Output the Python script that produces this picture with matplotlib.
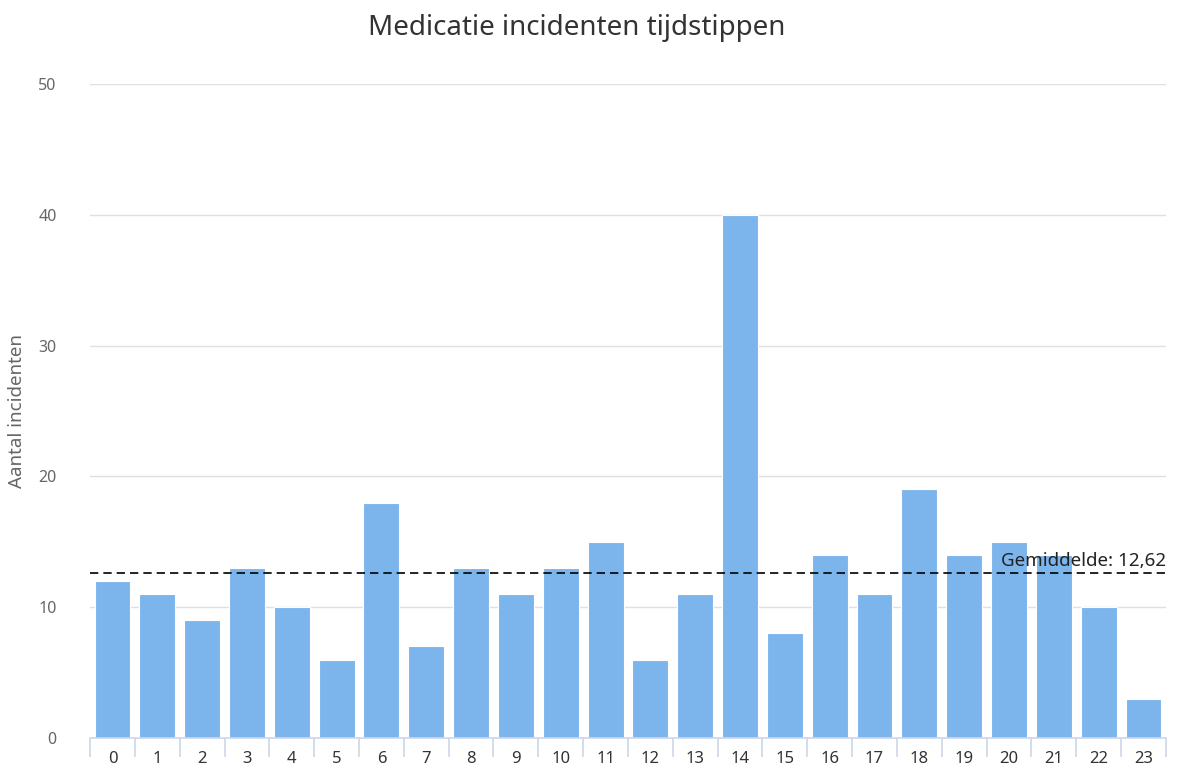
import numpy as np
import matplotlib
matplotlib.use('Agg')
import matplotlib.pyplot as plt

plt.rcParams['font.family'] = ['Noto Sans', 'DejaVu Sans']

# data
hours = [str(h) for h in range(24)]
incidents = [12, 11, 9, 13, 10, 6, 18, 7, 13, 11, 13, 15,
             6, 11, 40, 8, 14, 11, 19, 14, 15, 14, 10, 3]
mean_value = 12.62
mean_label = 'Gemiddelde: 12,62'
title = 'Medicatie incidenten tijdstippen'
y_label = 'Aantal incidenten'
y_ticks = [0, 10, 20, 30, 40, 50]

fig = plt.figure(figsize=(11.94, 7.74), dpi=100)
ax = fig.add_axes([0.0754, 0.0465, 0.9011, 0.845])

x = np.arange(len(hours))
ax.bar(x, incidents, width=0.8, color='#7cb5ec', edgecolor='white',
       linewidth=0.8, zorder=2)

ax.axhline(mean_value, color='black', linestyle=(0, (5, 3)), linewidth=1.2,
           zorder=3)
ax.text(len(hours) - 0.5, mean_value + 0.25, mean_label, ha='right',
        va='bottom', fontsize=13.5, color='#222222', zorder=4)

ax.set_xlim(-0.5, len(hours) - 0.5)
ax.set_ylim(0, 50)
ax.set_yticks(y_ticks)
ax.set_yticklabels([str(t) for t in y_ticks], color='#666666', fontsize=11.5)
ax.set_xticks(x)
ax.set_xticklabels(hours, color='#333333', fontsize=12)
ax.set_xticks(np.arange(-0.5, len(hours), 1), minor=True)
ax.tick_params(axis='x', which='major', length=0, pad=9)
ax.tick_params(axis='x', which='minor', length=14, color='#ccd6eb', width=1.2)
ax.tick_params(axis='y', length=0, pad=24)

ax.grid(axis='y', color='#e0e0e0', linewidth=1, zorder=0)
for side in ['top', 'right', 'left']:
    ax.spines[side].set_visible(False)
ax.spines['bottom'].set_color('#ccd6eb')
ax.spines['bottom'].set_linewidth(1.2)
ax.spines['bottom'].set_zorder(5)

ax.set_ylabel(y_label, color='#666666', fontsize=13.5)
ax.yaxis.set_label_coords(-0.0595, 0.5)
fig.suptitle(title, x=0.483, y=0.982, fontsize=20, color='#333333')

fig.savefig('out.png', dpi=100)
plt.close(fig)
